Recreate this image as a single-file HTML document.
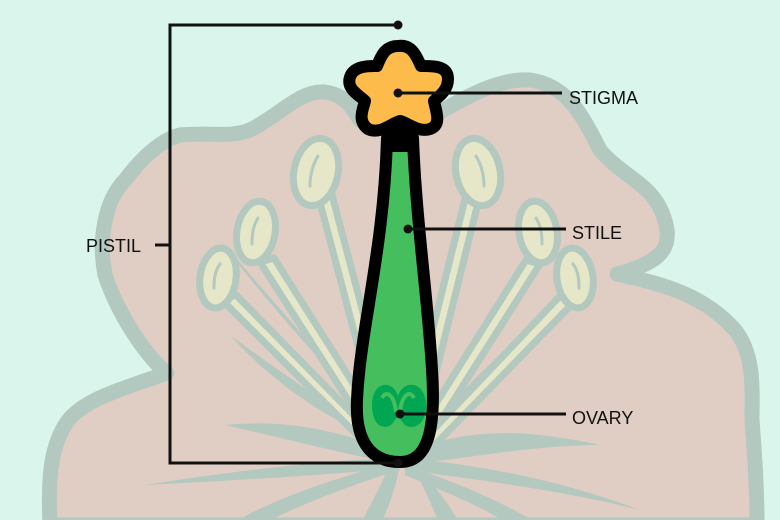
<!DOCTYPE html>
<html><head><style>
html,body{margin:0;padding:0;background:#d9f5ec;}
svg{display:block;}
text{font-family:"Liberation Sans",sans-serif;font-size:18px;fill:#111;}
</style></head><body>
<svg width="780" height="520" viewBox="0 0 780 520" xmlns="http://www.w3.org/2000/svg">
<rect width="780" height="520" fill="#d9f5ec"/>
<!-- flower petals -->
<path d="M50,525 C48,480 50,450 65,425 C80,400 120,390 167,373 C150,360 120,320 105,275 C98,240 105,200 125,180 C140,160 160,140 180,135 C210,132 230,138 250,130 C280,115 300,90 325,92 C345,95 350,105 360,120 L440,112 C470,95 500,78 530,80 C565,85 580,110 600,150 C625,180 660,185 667,230 C670,255 650,265 617,274 C650,282 700,290 735,330 C755,355 752,390 752,420 C755,460 757,490 757,525 Z" fill="#e0cdc4" stroke="#b3c8bf" stroke-width="15" stroke-linejoin="round"/>
<!-- sepals -->
<g fill="#b3c8bf">
<path d="M400,455 C330,425 270,420 225,425 C290,440 350,455 400,465 Z"/>
<path d="M400,455 C470,425 530,430 600,445 C530,445 460,460 400,465 Z"/>
<path d="M395,458 C330,460 240,470 145,485 C240,480 330,475 395,468 Z"/>
<path d="M405,458 C480,465 560,480 640,510 C560,490 480,480 405,470 Z"/>
<path d="M390,460 C385,480 370,505 360,525 L380,525 C390,505 398,480 400,462 Z"/>
<path d="M410,460 C420,480 432,505 440,525 L460,525 C448,500 425,475 412,460 Z"/>
<path d="M395,462 C330,480 270,500 230,525 L260,525 C300,505 350,485 400,470 Z"/>
<path d="M405,465 C450,480 500,500 540,525 L510,525 C480,505 440,490 405,475 Z"/>
<path d="M400,450 C340,380 280,320 220,240 C290,320 350,390 405,455 Z"/>
<path d="M410,450 C470,380 520,330 575,300 C520,340 465,400 410,458 Z"/>
<path d="M395,448 C330,420 280,390 230,335 C290,380 340,410 398,455 Z"/>
</g>
<!-- stamens -->
<g fill="#e6e6c8" stroke="#b3c8bf" stroke-width="7" stroke-linejoin="round">
<path d="M318,195 L332,195 L398,445 L384,445 Z"/>
<path d="M260,262 L274,258 L392,445 L378,447 Z"/>
<path d="M222,300 L236,295 L388,450 L374,452 Z"/>
<path d="M466,195 L480,195 L418,445 L404,445 Z"/>
<path d="M526,260 L540,264 L424,447 L410,445 Z"/>
<path d="M560,296 L574,302 L428,452 L414,450 Z"/>
<ellipse cx="316" cy="172" rx="22" ry="34" transform="rotate(12 316 172)"/>
<ellipse cx="256" cy="232" rx="19" ry="31" transform="rotate(10 256 232)"/>
<ellipse cx="218" cy="278" rx="18" ry="30" transform="rotate(8 218 278)"/>
<ellipse cx="478" cy="172" rx="22" ry="34" transform="rotate(-12 478 172)"/>
<ellipse cx="538" cy="232" rx="19" ry="31" transform="rotate(-10 538 232)"/>
<ellipse cx="575" cy="278" rx="18" ry="30" transform="rotate(-8 575 278)"/>
</g>
<g stroke="#b3c8bf" stroke-width="3" fill="none" stroke-linecap="round">
<path d="M318,156 C312,166 310,176 310,186"/>
<path d="M258,218 C253,226 252,234 252,244"/>
<path d="M220,264 C215,271 214,278 214,288"/>
<path d="M476,156 C482,166 484,176 484,186"/>
<path d="M536,218 C541,226 542,234 542,244"/>
<path d="M573,264 C578,271 579,278 579,288"/>
</g>
<!-- pistil -->
<path d="M387,138 L413,138 C416,220 428,300 432,370 C436,430 428,462 400,462 C370,462 355,440 357,400 C360,330 384,250 387,138 Z" fill="#45bf5e" stroke="#000" stroke-width="12" stroke-linejoin="round"/>
<rect x="386" y="122" width="28" height="30" fill="#000"/>
<path d="M372,405 C372,382 392,378 398,396 C404,378 426,382 426,405 C426,428 410,430 404,424 L398,416 L392,424 C386,430 372,428 372,405 Z" fill="#00a651"/>
<path d="M382,398 C386,390 394,394 396,412" stroke="#45bf5e" stroke-width="4" fill="none"/>
<path d="M414,398 C410,390 402,394 400,412" stroke="#45bf5e" stroke-width="4" fill="none"/>
<!-- stigma -->
<path d="M398,46 C413,44 417,58 421,66 C432,66 448,65 448,79 C448,91 438,97 434,101 C436,111 442,125 430,129 C419,133 408,123 400,121 C392,123 380,135 368,129 C357,121 363,109 365,101 C359,95 346,89 350,77 C354,65 371,66 377,66 C381,56 385,46 398,46 Z" fill="#fdbb4c" stroke="#000" stroke-width="12" stroke-linejoin="round"/>
<!-- labels lines -->
<g stroke="#111" stroke-width="3" fill="none">
<path d="M398,25 L170,25 L170,463 L398,463"/>
<path d="M155,245 L170,245"/>
<path d="M398,93 L562,93"/>
<path d="M408,229 L566,229"/>
<path d="M400,414 L566,414"/>
</g>
<g fill="#111">
<circle cx="398" cy="25" r="4.5"/>
<circle cx="398" cy="463" r="4.5"/>
<circle cx="398" cy="93" r="4.5"/>
<circle cx="408" cy="229" r="4.5"/>
<circle cx="400" cy="414" r="4.5"/>
</g>
<text x="86" y="252">PISTIL</text>
<text x="569" y="104">STIGMA</text>
<text x="572" y="239">STILE</text>
<text x="572" y="424">OVARY</text>
</svg>
</body></html>
